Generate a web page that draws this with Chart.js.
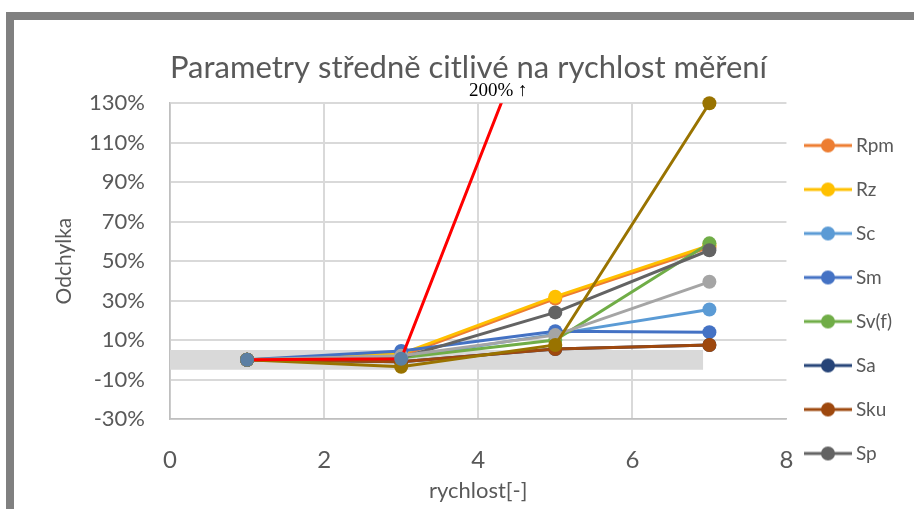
<!DOCTYPE html>
<html>
<head>
<meta charset="utf-8">
<script src="https://cdn.jsdelivr.net/npm/chart.js@4.4.1/dist/chart.umd.min.js"></script>
<style>
  body { margin: 0; background: #fff; }
  #wrap { position: relative; width: 914px; height: 509px; overflow: hidden; }
  #frame {
    position: absolute; left: 6px; top: 12px; width: 920px; height: 520px;
    border-top: 8px solid #808080; border-left: 8px solid #808080;
    box-sizing: border-box; pointer-events: none;
  }
  canvas { position: absolute; left: 0; top: 0; }
</style>
</head>
<body>
<div id="wrap">
  <canvas id="chart" width="914" height="509"></canvas>
  <div id="frame"></div>
</div>
<script>
// rychlost [-]
const rychlost = [1, 3, 5, 7];

// odchylka [%]
const Rpm = [0, 2, 31, 57];
const Rz = [0, 3, 32, 58];
const Sc = [0, 1, 13, 25.5];
const Sm = [0, 4.5, 14.5, 14];
const Svf = [0, 1, 10, 59];
const Sa = [0, -1, 5.5, 7.5];
const Sku = [0, -1, 5.5, 7.5];
const Sp = [0, 1, 24, 55.5];
const seda = [0, 2, 12.5, 39.5];
const olivova = [0, -3.5, 7.5, 130];
const cervena = [0, 0.5, 200];

// šedý pás tolerance
const pasX = [0, 6.92];
const pasHorni = 5;
const pasDolni = -5;

const yTicks = [-30, -10, 10, 30, 50, 70, 90, 110, 130];
const xTicks = [0, 2, 4, 6, 8];

const series = [
  { label: "Rpm", data: Rpm, color: "#ED7D31" },
  { label: "Rz", data: Rz, color: "#FFC000" },
  { label: "Sc", data: Sc, color: "#5B9BD5" },
  { label: "Sm", data: Sm, color: "#4472C4" },
  { label: "Sv(f)", data: Svf, color: "#70AD47" },
  { label: "Sa", data: Sa, color: "#264478" },
  { label: "Sku", data: Sku, color: "#9E480E" },
  { label: "Sp", data: Sp, color: "#636363" },
  { label: "seda", data: seda, color: "#A5A5A5" },
  { label: "olivova", data: olivova, color: "#997300" },
  { label: "cervena", data: cervena, color: "#FF0000", marker: "#5B7FA3" }
];
const legendCount = 8;

// ikona legendy: čára s kolečkem
function legendIcon(color) {
  const c = document.createElement("canvas");
  c.width = 60; c.height = 20;
  const g = c.getContext("2d");
  g.strokeStyle = color;
  g.lineWidth = 3;
  g.beginPath(); g.moveTo(5, 10); g.lineTo(53, 10); g.stroke();
  g.fillStyle = color;
  g.beginPath(); g.arc(29, 10, 7, 0, Math.PI * 2); g.fill();
  return c;
}
const icons = series.map(s => legendIcon(s.color));

const datasets = series.map((s, i) => ({
  label: s.label,
  data: s.data.map((v, j) => ({ x: rychlost[j], y: v })),
  borderColor: s.color,
  backgroundColor: s.color,
  pointBackgroundColor: s.marker || s.color,
  pointBorderWidth: 0,
  pointRadius: 7,
  borderWidth: 3,
  order: 20 - i,
  clip: s.marker ? 0 : false
}));

datasets.push({
  label: "pas",
  data: pasX.map(x => ({ x, y: pasHorni })),
  borderWidth: 0,
  pointRadius: 0,
  backgroundColor: "#D9D9D9",
  fill: { value: pasDolni },
  order: 100
});

// popisek 200% nad červenou čarou
const labelPlugin = {
  id: "label200",
  afterDatasetsDraw(chart) {
    const { ctx, chartArea, scales } = chart;
    const d = cervena, x = rychlost;
    const top = scales.y.max;
    const xv = x[1] + (top - d[1]) / (d[2] - d[1]) * (x[2] - x[1]);
    const px = scales.x.getPixelForValue(xv);
    ctx.save();
    ctx.font = "19px 'Liberation Serif'";
    ctx.fillStyle = "#000";
    ctx.textAlign = "center";
    ctx.textBaseline = "middle";
    ctx.fillText("200% \u2191", px - 3, chartArea.top - 12);
    ctx.restore();
  }
};

Chart.defaults.font.family = "Lato";
Chart.defaults.color = "#595959";

new Chart(document.getElementById("chart"), {
  type: "line",
  data: { datasets },
  plugins: [labelPlugin],
  options: {
    responsive: false,
    animation: false,
    devicePixelRatio: 1,
    layout: { padding: { left: 33, right: 10, top: 0, bottom: 0 } },
    plugins: {
      title: {
        display: true,
        text: "Parametry středně citlivé na rychlost měření",
        font: { size: 31, weight: "normal" },
        color: "#595959",
        padding: { top: 49, bottom: 17 }
      },
      legend: {
        position: "right",
        align: "start",
        title: { display: true, text: " ", font: { size: 10, lineHeight: 1 }, padding: { top: 101, bottom: 0 } },
        labels: {
          usePointStyle: true,
          pointStyleWidth: 35,
          padding: 25,
          font: { size: 19 },
          color: "#595959",
          generateLabels(chart) {
            return Chart.defaults.plugins.legend.labels.generateLabels(chart)
              .filter(l => l.datasetIndex < legendCount)
              .sort((a, b) => a.datasetIndex - b.datasetIndex)
              .map(l => Object.assign(l, { pointStyle: icons[l.datasetIndex] }));
          }
        }
      },
      tooltip: { enabled: false }
    },
    scales: {
      x: {
        type: "linear",
        min: 0,
        max: 8,
        afterBuildTicks: s => { s.ticks = xTicks.map(v => ({ value: v })); },
        afterFit: s => { s.height = 90; },
        ticks: { font: { size: 24 }, padding: 27 },
        grid: {
          drawTicks: false,
          lineWidth: 2,
          color: c => (c.tick && c.tick.value === 8 ? "rgba(0,0,0,0)" : "#D9D9D9")
        },
        border: { color: "#BFBFBF", width: 1.5 },
        title: { display: true, text: "rychlost[-]", font: { size: 22 }, padding: { top: 0, bottom: 5 } }
      },
      y: {
        min: -30,
        max: 130,
        afterBuildTicks: s => { s.ticks = yTicks.map(v => ({ value: v })); },
        afterFit: s => { s.width = 137; },
        ticks: { font: { size: 22 }, padding: 25, callback: v => v + "%" },
        grid: { drawTicks: false, lineWidth: 2, color: "#D9D9D9" },
        border: { color: "#BFBFBF", width: 1.5 },
        title: { display: true, text: "Odchylka", font: { size: 21 }, padding: { top: 19, bottom: 0 } }
      }
    }
  }
});
</script>
</body>
</html>
